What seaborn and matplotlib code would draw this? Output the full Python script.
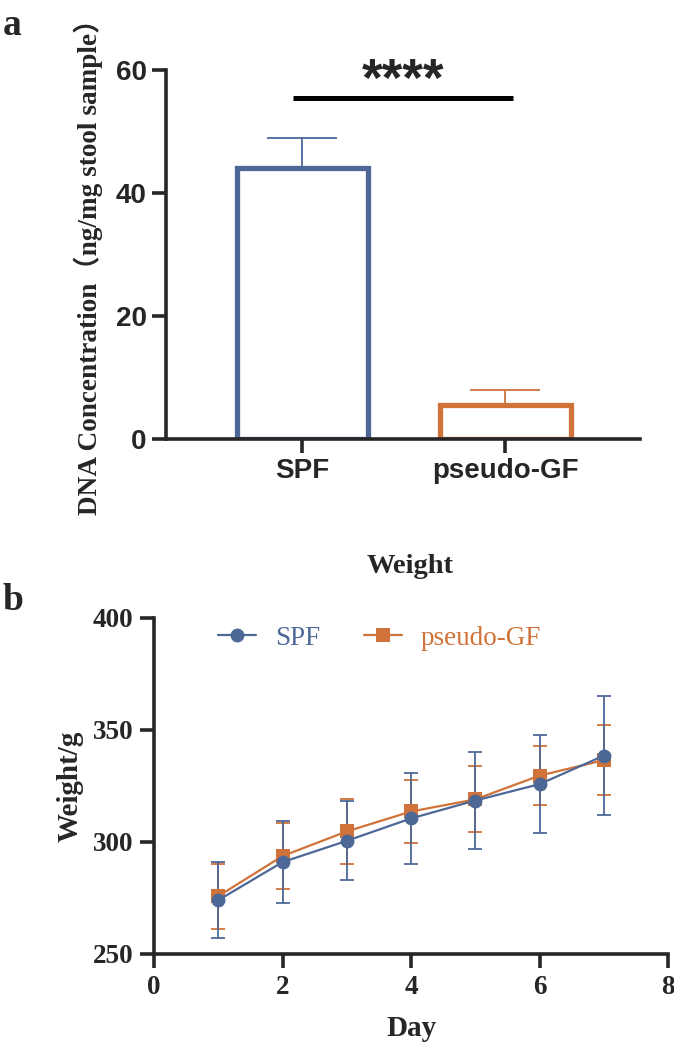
import numpy as np
import pandas as pd
import matplotlib
matplotlib.use("Agg")
import matplotlib.pyplot as plt
import seaborn as sns

# panel a: DNA concentration (mean, SD)
groups = ["SPF", "pseudo-GF"]
conc_mean = [44.0, 5.6]
conc_sd = [5.0, 2.4]

# panel b: body weight over days (mean, SD)
days = [1, 2, 3, 4, 5, 6, 7]
spf_weight = [274.0, 291.0, 300.5, 310.5, 318.5, 325.8, 338.5]
spf_sd = [17.0, 18.3, 17.6, 20.4, 21.8, 22.0, 26.5]
pgf_weight = [275.8, 293.7, 304.7, 313.6, 319.0, 329.6, 336.5]
pgf_sd = [14.5, 14.6, 14.5, 13.9, 14.7, 13.3, 15.5]

blue = "#4D6897"
orange = "#D0733A"
palette = {"SPF": blue, "pseudo-GF": orange}

sns.set_style("ticks")
plt.rcParams["font.family"] = ["Liberation Serif", "Noto Sans CJK SC"]
plt.rcParams["axes.linewidth"] = 2.6

SANS = ["Liberation Sans", "DejaVu Sans"]
SERIF = ["Liberation Serif", "Noto Sans CJK SC"]

fig = plt.figure(figsize=(6.74, 10.49), dpi=100)

# ---------------- panel a ----------------
ax1 = fig.add_axes([0.2463, 0.5815, 0.7033, 0.3518])
df_a = pd.DataFrame({"group": groups, "conc": conc_mean})
sns.barplot(data=df_a, x="group", y="conc", hue="group", palette=palette,
            fill=False, linewidth=3.8, width=0.645, errorbar=None,
            legend=False, ax=ax1)
for i, g in enumerate(groups):
    ax1.errorbar(i, conc_mean[i], yerr=[[0], [conc_sd[i]]], fmt="none",
                 ecolor=palette[g], elinewidth=1.3, capsize=25, capthick=1.3,
                 zorder=3)

ax1.set_xlim(-0.672, 1.663)
ax1.set_ylim(0, 60)
ax1.set_yticks([0, 20, 40, 60])
ax1.set_xlabel("")
ax1.set_ylabel("")
sns.despine(ax=ax1)
ax1.tick_params(axis="both", length=10, width=2.6, pad=4)
for lab in ax1.get_yticklabels():
    lab.set_fontfamily(SANS)
    lab.set_fontweight("bold")
    lab.set_fontsize(20)
for lab in ax1.get_xticklabels():
    lab.set_fontfamily(SANS)
    lab.set_fontweight("bold")
    lab.set_fontsize(20)

# significance bar
ax1.plot([-0.047, 1.037], [55.4, 55.4], color="black", lw=3.6,
         solid_capstyle="butt", clip_on=False)
ax1.text(0.495, 58.0, "****", ha="center", va="center", fontsize=38,
         fontweight="bold", family=SANS, clip_on=False)

fig.text(0.1306, 0.752, "DNA Concentration（ng/mg stool sample）",
         rotation=90, ha="center", va="center", fontsize=19.6,
         fontweight="bold", family=SERIF)
fig.text(0.004, 0.976, "a", ha="left", va="center", fontsize=27,
         fontweight="bold", family=SERIF)

# ---------------- panel b ----------------
ax2 = fig.add_axes([0.2285, 0.0906, 0.7626, 0.3203])
df_b = pd.DataFrame({
    "Day": days + days,
    "Weight": pgf_weight + spf_weight,
    "Group": ["pseudo-GF"] * len(days) + ["SPF"] * len(days),
})
sd_map = {"SPF": spf_sd, "pseudo-GF": pgf_sd}
mean_map = {"SPF": spf_weight, "pseudo-GF": pgf_weight}

for g in ["pseudo-GF", "SPF"]:
    ax2.errorbar(days, mean_map[g], yerr=sd_map[g], fmt="none",
                 ecolor=palette[g], elinewidth=1.3, capsize=5, capthick=1.3,
                 zorder=2)

sns.lineplot(data=df_b, x="Day", y="Weight", hue="Group", style="Group",
             hue_order=["pseudo-GF", "SPF"], palette=palette,
             markers={"SPF": "o", "pseudo-GF": "s"}, dashes=False,
             markersize=10, markeredgewidth=0, linewidth=1.6,
             ax=ax2, zorder=3)

ax2.set_xlim(0, 8)
ax2.set_ylim(250, 400)
ax2.set_xticks([0, 2, 4, 6, 8])
ax2.set_yticks([250, 300, 350, 400])
ax2.set_xlabel("")
ax2.set_ylabel("")
sns.despine(ax=ax2)
ax2.tick_params(axis="both", length=10, width=2.6, pad=5)
for lab in ax2.get_xticklabels() + ax2.get_yticklabels():
    lab.set_fontfamily(SERIF)
    lab.set_fontweight("bold")
    lab.set_fontsize(19.5)

handles, labels = ax2.get_legend_handles_labels()
order = [labels.index("SPF"), labels.index("pseudo-GF")]
leg = ax2.legend([handles[i] for i in order], [labels[i] for i in order],
                 loc="center left", bbox_to_anchor=(0.125, 0.94), ncol=2,
                 frameon=False, fontsize=19.5, handlelength=1.4,
                 handletextpad=0.7, columnspacing=1.6, borderpad=0,
                 borderaxespad=0)
for txt, g in zip(leg.get_texts(), ["SPF", "pseudo-GF"]):
    txt.set_color(palette[g])
    txt.set_fontfamily(SERIF)

fig.text(0.608, 0.4595, "Weight", ha="center", va="center", fontsize=20.5,
         fontweight="bold", family=SERIF)
fig.text(0.104, 0.2507, "Weight/g", rotation=90, ha="center", va="center",
         fontsize=21, fontweight="bold", family=SERIF)
fig.text(0.610, 0.0200, "Day", ha="center", va="center", fontsize=21,
         fontweight="bold", family=SERIF)
fig.text(0.004, 0.428, "b", ha="left", va="center", fontsize=27,
         fontweight="bold", family=SERIF)

fig.savefig("out.png", dpi=100, facecolor="white")
